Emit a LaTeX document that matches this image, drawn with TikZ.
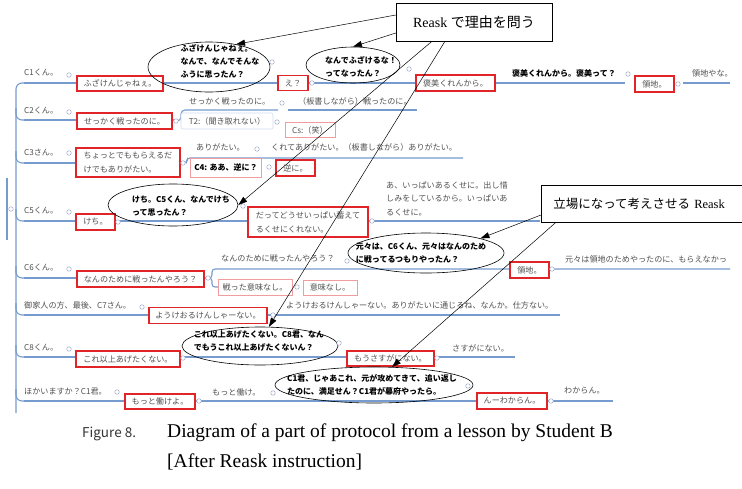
\documentclass[tikz,border=0pt]{standalone}
\usepackage{fontspec}
\setmainfont{Liberation Serif}
\newfontfamily\jp{Noto Sans CJK JP}
\usetikzlibrary{shapes.geometric,arrows.meta}

\definecolor{twigblue}{RGB}{118,155,206}
\definecolor{knobblue}{RGB}{160,172,205}
\definecolor{boxred}{RGB}{224,36,40}
\definecolor{txtgray}{RGB}{80,80,80}

\tikzset{
  topic/.style={anchor=west, inner sep=0pt, text=txtgray, align=left,
    font=\jp\fontsize{8.1}{13.5}\selectfont},
  boldtopic/.style={topic, text=black, font=\jp\bfseries\fontsize{8}{13}\selectfont},
  redbox/.style={draw=boxred, line width=1.2pt, fill=white, inner sep=2pt,
    text=txtgray, align=left, font=\jp\fontsize{8.1}{14}\selectfont},
  pinkbox/.style={draw=boxred!45, line width=0.6pt, fill=white, inner sep=2pt,
    text=txtgray, font=\jp\fontsize{8.1}{13}\selectfont},
  softbox/.style={draw=twigblue!35, line width=0.6pt, rounded corners=2pt, fill=white,
    inner sep=2pt, text=txtgray, font=\jp\fontsize{8.1}{13}\selectfont},
  bubble/.style={ellipse, draw, line width=0.6pt, inner sep=0pt},
  bubbletext/.style={inner sep=0pt, align=left, font=\jp\bfseries\fontsize{8}{13}\selectfont},
  knob/.style={circle, draw=knobblue, line width=0.5pt, fill=white, minimum size=4.5pt, inner sep=0pt},
  twig/.style={draw=twigblue, line width=1.1pt},
  callout/.style={draw, line width=0.5pt, fill=white, inner xsep=11pt,
    font=\fontsize{14}{16}\selectfont},
  pointer/.style={-{Triangle[length=9pt,width=6pt]}, line width=0.5pt},
}

\begin{document}
\begin{tikzpicture}[x=1pt, y=-1pt]
    \clip (0,0) rectangle (742,488);
    \fill[white] (0,0) rectangle (742,488);

    % trunk and root
    \draw[twig] (7,178) -- (7,240);
    \node[knob] (root) at (11,209) {};
    \draw[twig, rounded corners=6pt] (16,413) -- (16,83) -- (26,83);
    \foreach \y in {120,163,221,278,315,357,401} {
        \draw[twig, rounded corners=6pt] (16,\y-12) |- (26,\y);
    }

    % row lines
    \draw[twig] (24,83) -- (625,83);
    \draw[twig] (683,83) -- (730,83);
    \draw[twig] (24,120) -- (176,120);
    \draw[twig, rounded corners=4pt] (176,121) -- (181,121) |- (190,110) -- (278,110);
    \draw[twig] (288,110) -- (417,110);
    \draw[twig] (24,163) -- (183,163);
    \draw[twig, rounded corners=3pt] (183,163) -- (187,163) |- (195,158) -- (463,158);
    \draw[twig] (24,221) -- (540,221);
    \draw[twig] (24,278) -- (208,278);
    \draw[twig, rounded corners=3pt] (208,278) -- (212,278) |- (220,269) -- (730,269);
    \draw[twig, rounded corners=3pt] (208,278) -- (212,278) |- (220,287);
    \draw[twig] (24,315) -- (560,315);
    \draw[twig] (24,357) -- (515,357);
    \draw[twig] (24,401) -- (613,401);

    % C1
    \node[topic] (c1) at (24,73) {C1くん。};
    \node[knob] (kc1) at (69,75) {};
    \node[redbox, minimum width=86pt, minimum height=15pt] (r1) at (120,83.5) {ふざけんじゃねぇ。};
    \node[bubble, minimum width=122pt, minimum height=50pt] (e1) at (209,67) {};
    \node[bubbletext] (q1) at (220,61) {ふざけんじゃねぇ。\\なんで、なんでそんな\\ふうに思ったん？};
    \node[knob] (kq1) at (272,62) {};
    \node[redbox, minimum width=30pt, minimum height=15pt] (r2) at (293,83) {え？};
    \node[knob] (kr2) at (312,83) {};
    \node[bubble, minimum width=94pt, minimum height=36pt] (e2) at (353,65) {};
    \node[bubbletext] (q2) at (361,67) {なんでふざけるな！\\ってなったん？};
    \node[knob] (kq2) at (409,69) {};
    \node[redbox, minimum width=79pt, minimum height=16pt] (r3) at (455.5,83) {褒美くれんから。};
    \node[boldtopic] (q3) at (512,73) {褒美くれんから。褒美って？};
    \node[knob] (kq3) at (628,74) {};
    \node[redbox, minimum width=39pt, minimum height=16pt] (r4) at (654.5,84) {領地。};
    \node[knob] (kr4) at (678,84) {};
    \node[topic] (a1) at (692,73) {領地やな。};

    % C2
    \node[topic] (c2) at (24,111) {C2くん。};
    \node[knob] (kc2) at (69,112) {};
    \node[redbox, minimum width=95pt, minimum height=16pt] (r5) at (124.5,121) {せっかく戦ったのに。};
    \node[knob] (kr5) at (176,121) {};
    \node[topic] (a2) at (189,101) {せっかく戦ったのに。};
    \node[knob] (ka2) at (282,103) {};
    \node[topic] (a3) at (298,101) {（板書しながら）戦ったのに。};
    \node[softbox, minimum width=92pt, minimum height=16pt] (t2) at (227,121) {T2:（聞き取れない）};
    \node[knob] (kt2) at (277,122) {};
    \node[pinkbox, minimum width=50pt, minimum height=15pt] (cs) at (310,130) {Cs:（笑）};

    % C3
    \node[topic] (c3) at (24,153) {C3さん。};
    \node[knob] (kc3) at (69,153) {};
    \node[redbox, minimum width=104pt, minimum height=29pt] (r6) at (128,162.5) {ちょっとでももらえるだ\\けでもありがたい。};
    \node[knob] (kr6) at (183,163) {};
    \node[topic] (a4) at (196,147) {ありがたい。};
    \node[knob] (ka4) at (257,149) {};
    \node[topic] (a5) at (271,147) {くれてありがたい。（板書しながら）ありがたい。};
    \node[pinkbox, text=black, font=\jp\bfseries\fontsize{8}{13}\selectfont,
        minimum width=71pt, minimum height=19pt] (c4) at (226,167.5) {C4: ああ、逆に？};
    \node[knob] (kc4) at (269,167) {};
    \node[redbox, minimum width=39pt, minimum height=16pt] (r7) at (295.5,168) {逆に。};

    % C5
    \node[topic] (c5) at (24,211) {C5くん。};
    \node[knob] (kc5) at (69,212) {};
    \node[redbox, minimum width=39pt, minimum height=16pt] (r8) at (95.5,222) {けち。};
    \node[knob] (kr8) at (118,222) {};
    \node[bubble, minimum width=130pt, minimum height=42pt] (e3) at (173,205) {};
    \node[bubbletext] (q4) at (181,206) {けち。C5くん、なんでけち\\って思ったん？};
    \node[knob] (kq4) at (243,206) {};
    \node[redbox, minimum width=120pt, minimum height=30pt] (r9) at (308,222) {だってどうせいっぱい蓄えて\\るくせにくれない。};
    \node[knob] (kr9) at (372,221) {};
    \node[topic] (a6) at (386,198.5) {あ、いっぱいあるくせに。出し惜\\しみをしているから。いっぱいあ\\るくせに。};

    % C6
    \node[topic] (c6) at (24,268) {C6くん。};
    \node[knob] (kc6) at (69,269) {};
    \node[redbox, minimum width=127pt, minimum height=16pt] (r10) at (140.5,279) {なんのために戦ったんやろう？};
    \node[knob] (kr10) at (208,278) {};
    \node[topic] (a7) at (221,258) {なんのために戦ったんやろう？};
    \node[knob] (ka7) at (347,261) {};
    \node[bubble, minimum width=156pt, minimum height=40pt] (e4) at (426,253) {};
    \node[bubbletext] (q5) at (421,253) {元々は、C6くん、元々はなんのため\\に戦ってるつもりやったん？};
    \node[redbox, minimum width=39pt, minimum height=16pt] (r11) at (529.5,270) {領地。};
    \node[knob] (kr11) at (552,269) {};
    \node[topic] (a8) at (565,259) {元々は領地のためやったのに、もらえなかっ};
    \node[pinkbox, minimum width=74pt, minimum height=16pt] (p1) at (255,287.5) {戦った意味なし。};
    \node[knob] (kp1) at (297,287) {};
    \node[pinkbox, minimum width=54pt, minimum height=15pt] (p2) at (330,287.5) {意味なし。};

    % C7
    \node[topic] (c7) at (24,305) {御家人の方、最後、C7さん。};
    \node[knob] (kc7) at (142,307) {};
    \node[redbox, minimum width=118pt, minimum height=16pt] (r12) at (208,315.5) {ようけおるけんしゃーない。};
    \node[knob] (kr12) at (273,315) {};
    \node[topic] (a9) at (286,305) {ようけおるけんしゃーない。ありがたいに通じるね、なんか。仕方ない。};

    % C8
    \node[topic] (c8) at (24,348) {C8くん。};
    \node[knob] (kc8) at (69,349) {};
    \node[redbox, minimum width=104pt, minimum height=16pt] (r13) at (128,359) {これ以上あげたくない。};
    \node[knob] (kr13) at (183,358) {};
    \node[bubble, minimum width=156pt, minimum height=38pt] (e5) at (260,346) {};
    \node[bubbletext] (q6) at (259,341.5) {これ以上あげたくない。C8君、なん\\でもうこれ以上あげたくないん？};
    \node[knob] (kq6) at (339,343) {};
    \node[redbox, minimum width=87pt, minimum height=15pt] (r14) at (390.5,358.5) {もうさすがにない。};
    \node[knob] (kr14) at (437,358) {};
    \node[topic] (a10) at (452,348) {さすがにない。};

    % C1 again
    \node[topic] (c9) at (24,392) {ほかいますか？C1君。};
    \node[knob] (kc9) at (117,392) {};
    \node[redbox, minimum width=70pt, minimum height=15pt] (r15) at (160,401.5) {もっと働けよ。};
    \node[knob] (kr15) at (199,401) {};
    \node[topic] (a11) at (212,392) {もっと働け。};
    \node[knob] (ka11) at (273,393) {};
    \node[bubble, minimum width=198pt, minimum height=36pt] (e6) at (374,385) {};
    \node[bubbletext] (q7) at (372,385) {C1君、じゃあこれ、元が攻めてきて、追い返し\\たのに、満足せん？C1君が幕府やったら。};
    \node[knob] (kq7) at (468,386) {};
    \node[redbox, minimum width=70pt, minimum height=16pt] (r16) at (512,401) {んーわからん。};
    \node[knob] (kr16) at (551,401) {};
    \node[topic] (a12) at (564,391) {わからん。};

    % callouts
    \node[callout, minimum width=156pt, minimum height=38pt] (ask1) at (474,22) {Reask {\jp で理由を問う}};
    \node[callout, anchor=west, font=\fontsize{12.5}{15}\selectfont, minimum width=250pt,
        minimum height=37pt, text width=226pt] (ask2) at (541,203.5) {{\jp 立場になって考えさせる} Reask};

    \draw[pointer] ([yshift=7pt]ask1.west) -- (e1.40);
    \draw[pointer] ([yshift=-11pt]ask1.west) -- (e2.north);
    \draw[pointer] ([xshift=-42pt]ask1.south) -- (e3.east);
    \draw[pointer] ([xshift=-29pt]ask1.south) -- (e5.65);
    \draw[pointer] ([yshift=-11.5pt]ask2.west) -- (e4.15);
    \draw[pointer] ([xshift=15pt]ask2.south west) -- (e6.45);

    % caption
    \node[anchor=base west, inner sep=0pt, text=black!80, font=\jp\fontsize{13.5}{15}\selectfont] (fig) at (82,437) {Figure 8.};
    \node[anchor=base west, inner sep=0pt, font=\fontsize{19.5}{22}\selectfont] (cap1) at (167,437) {Diagram of a part of protocol from a lesson by Student B};
    \node[anchor=base west, inner sep=0pt, font=\fontsize{19.5}{22}\selectfont] (cap2) at (167,467) {[After Reask instruction]};
\end{tikzpicture}
\end{document}
